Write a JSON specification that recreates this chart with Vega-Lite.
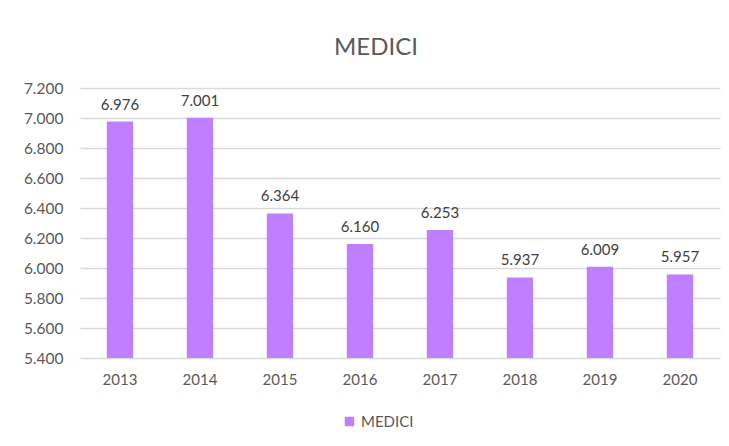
{
  "$schema": "https://vega.github.io/schema/vega-lite/v6.json",
  "width": 640,
  "height": 270,
  "autosize": {"type": "none"},
  "padding": {"left": 80, "top": 88, "right": 9, "bottom": 88},
  "background": "white",
  "config": {
    "font": "Lato",
    "view": {"stroke": null}
  },
  "title": {
    "text": "MEDICI",
    "fontSize": 24,
    "fontWeight": "normal",
    "color": "#595959",
    "font": "Lato",
    "anchor": "middle",
    "dx": -24,
    "offset": 21
  },
  "data": {
    "values": [
      {"anno": "2013", "valore": 6.976, "serie": "MEDICI"},
      {"anno": "2014", "valore": 7.001, "serie": "MEDICI"},
      {"anno": "2015", "valore": 6.364, "serie": "MEDICI"},
      {"anno": "2016", "valore": 6.160, "serie": "MEDICI"},
      {"anno": "2017", "valore": 6.253, "serie": "MEDICI"},
      {"anno": "2018", "valore": 5.937, "serie": "MEDICI"},
      {"anno": "2019", "valore": 6.009, "serie": "MEDICI"},
      {"anno": "2020", "valore": 5.957, "serie": "MEDICI"}
    ]
  },
  "encoding": {
    "x": {
      "field": "anno",
      "type": "ordinal",
      "title": null,
      "scale": {"paddingInner": 0.67, "paddingOuter": 0.335},
      "axis": {
        "labelAngle": 0,
        "labelFontSize": 15,
        "labelColor": "#595959",
        "labelPadding": 14,
        "ticks": false,
        "domain": false,
        "grid": false
      }
    },
    "y": {
      "field": "valore",
      "type": "quantitative",
      "title": null,
      "scale": {"domain": [5.4, 7.2], "zero": false, "clamp": true},
      "axis": {
        "values": [5.4, 5.6, 5.8, 6.0, 6.2, 6.4, 6.6, 6.8, 7.0, 7.2],
        "format": ".3f",
        "labelFontSize": 15.5,
        "labelColor": "#595959",
        "labelPadding": 17,
        "ticks": false,
        "domain": false,
        "grid": true,
        "gridColor": "#d9d9d9",
        "gridWidth": 1.5
      }
    }
  },
  "layer": [
    {
      "mark": {"type": "bar", "color": "#bf7fff"},
      "encoding": {
        "color": {
          "field": "serie",
          "type": "nominal",
          "scale": {"range": ["#bf7fff"]},
          "legend": {
            "title": null,
            "orient": "none",
            "legendX": 262,
            "legendY": 326,
            "symbolType": "square",
            "symbolSize": 90,
            "labelFontSize": 15,
            "labelColor": "#595959",
            "labelOffset": 4
          }
        }
      }
    },
    {
      "mark": {"type": "text", "baseline": "bottom", "dy": -9, "fontSize": 15, "color": "#404040"},
      "encoding": {
        "text": {"field": "valore", "type": "quantitative", "format": ".3f"}
      }
    }
  ]
}
